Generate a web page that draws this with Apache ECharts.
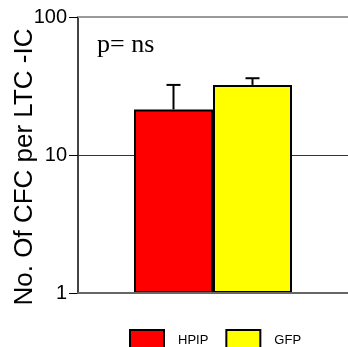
<!DOCTYPE html>
<html>
<head>
<meta charset="utf-8">
<script src="https://cdn.jsdelivr.net/npm/echarts@6/dist/echarts.min.js"></script>
<style>
  html, body { margin: 0; padding: 0; background: #fff; }
  #chart { width: 348px; height: 347px; }
</style>
</head>
<body>
<div id="chart"></div>
<script>
  const groups = ['HPIP', 'GFP']
  const means = [21.4, 32.2]
  const errTops = [32.2, 36]
  const yTicks = [1, 10, 100]
  const colorList = ['#ff0000', '#ffff00']

  const barW = 79
  const chart = echarts.init(document.getElementById('chart'))

  const barSeries = groups.map((g, i) => ({
    name: g,
    type: 'bar',
    data: [means[i]],
    barWidth: barW,
    barGap: '0%',
    itemStyle: { color: colorList[i], borderColor: '#000', borderWidth: 2 },
    z: 2,
  }))

  // error bars, only the upper whisker like the original
  const errSeries = {
    type: 'custom',
    data: groups.map((g, i) => [0, means[i], errTops[i], i]),
    renderItem: (params, api) => {
      const idx = api.value(3)
      const off = (idx === 0 ? -1 : 1) * barW / 2
      const p0 = api.coord([0, api.value(1)])
      const p1 = api.coord([0, api.value(2)])
      const x = p0[0] + off
      return {
        type: 'group',
        children: [
          { type: 'line', shape: { x1: x, y1: p0[1], x2: x, y2: p1[1] }, style: { stroke: '#000', lineWidth: 2 } },
          { type: 'line', shape: { x1: x - 7, y1: p1[1], x2: x + 7, y2: p1[1] }, style: { stroke: '#000', lineWidth: 2 } },
        ],
      }
    },
    z: 1,
    silent: true,
  }

  const options = {
    animation: false,
    title: {
      text: 'p= ns',
      left: 97,
      top: 32,
      padding: 0,
      textStyle: { fontFamily: 'Liberation Serif', fontSize: 26, fontWeight: 'normal', color: '#000' },
    },
    legend: {
      data: groups,
      left: 129,
      top: 329,
      padding: 0,
      itemWidth: 34,
      itemHeight: 20,
      itemGap: 17,
      icon: 'rect',
      textStyle: { fontFamily: 'Liberation Sans', fontSize: 13, color: '#000', padding: [0, 0, 0, 9] },
      itemStyle: { borderColor: '#000', borderWidth: 2 },
    },
    grid: { left: 78, right: 0, top: 17, bottom: 54, containLabel: false, outerBoundsMode: 'none' },
    xAxis: [
      {
        type: 'category',
        data: ['all'],
        axisLine: { show: true, lineStyle: { color: '#666', width: 2 } },
        axisTick: { show: false },
        axisLabel: { show: false },
        z: 5,
      },
      {
        type: 'category',
        position: 'top',
        data: ['all'],
        axisLine: { show: true, lineStyle: { color: '#999', width: 2 } },
        axisTick: { show: false },
        axisLabel: { show: false },
      },
    ],
    yAxis: {
      type: 'log',
      logBase: 10,
      min: yTicks[0],
      max: yTicks[yTicks.length - 1],
      name: 'No. Of CFC per LTC -IC',
      nameLocation: 'middle',
      nameRotate: 90,
      nameGap: 40,
      nameMoveOverlap: false,
      nameTextStyle: { fontFamily: 'Liberation Sans', fontSize: 26, color: '#000', padding: [0, 24, 0, 0] },
      axisLine: { show: true, lineStyle: { color: '#444', width: 2 } },
      axisTick: { show: true, length: 9, lineStyle: { color: '#000', width: 1 } },
      axisLabel: { fontFamily: 'Liberation Sans', fontSize: 20, color: '#000', margin: 11 },
      splitLine: { show: true, lineStyle: { color: '#333', width: 1 } },
    },
    series: [...barSeries, errSeries],
  }

  chart.setOption(options)
  window.addEventListener('resize', function () {
    chart && chart.resize()
  })
</script>
</body>
</html>
